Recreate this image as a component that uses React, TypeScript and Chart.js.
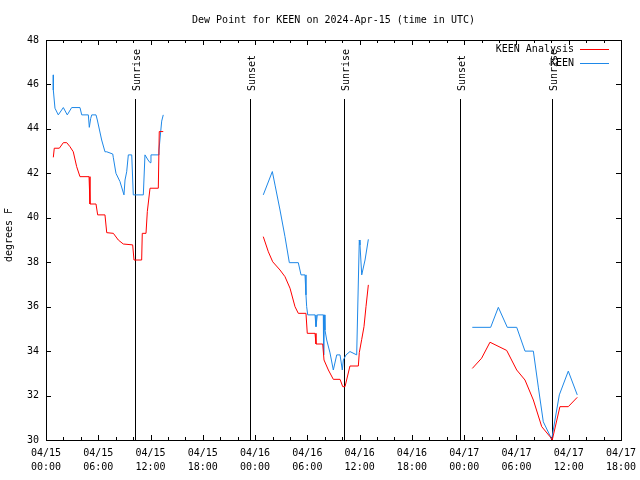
import React, { useEffect, useRef } from "react";
import { Chart, registerables } from "chart.js";

Chart.register(...registerables);

const TITLE = "Dew Point for KEEN on 2024-Apr-15 (time in UTC)";
const Y_TITLE = "degrees F";
const SERIES_NAMES = ["KEEN Analysis", "KEEN"];
const X_TICK_LABELS = [
  ["04/15", "00:00"], ["04/15", "06:00"], ["04/15", "12:00"], ["04/15", "18:00"],
  ["04/16", "00:00"], ["04/16", "06:00"], ["04/16", "12:00"], ["04/16", "18:00"],
  ["04/17", "00:00"], ["04/17", "06:00"], ["04/17", "12:00"], ["04/17", "18:00"],
];

// hours since 04/15 00:00 UTC (null value = gap in data)
const keenHours = [
  0.84, 0.84, 1.03, 1.41, 1.99, 2.44, 2.95, 3.9, 4.1, 4.86, 4.97, 5.13, 5.25, 5.74, 5.89, 6.39, 6.77, 6.97,
  7.66, 7.73, 8.03, 8.49, 8.95, 9.07, 9.26, 9.45, 9.84, 10.02, 11.17, 11.36, 11.71, 11.94, 12.05, 12.89,
  12.97, 13.17, 13.28, 13.46,
  19,
  24.94, 25.98, 26.29, 26.86, 27.43, 27.93, 28.96, 29.27, 29.73, 29.84, 29.92, 30.04, 30.88, 30.99, 31.14,
  31.83, 31.87, 31.95, 32.02, 32.22, 32.6, 32.98, 33.37, 33.75, 34.01, 34.13, 34.44, 34.89, 35.66, 35.96,
  36.04, 36.24, 36.62, 37.0,
  42,
  48.93, 51.04, 51.92, 52.95, 54.03, 54.98, 55.94, 56.51, 57.08, 58.05, 58.42, 58.92, 59.95, 60.98,
];
const keenValues = [
  46.43, 45.75, 44.93, 44.63, 44.96, 44.63, 44.96, 44.96, 44.63, 44.63, 44.07, 44.47, 44.63, 44.63, 44.4, 43.5,
  42.97, 42.97, 42.87, 42.7, 42.0, 41.63, 41.03, 41.7, 42.07, 42.83, 42.83, 41.03, 41.03, 42.83, 42.6, 42.48,
  42.83, 42.83, 43.05, 43.9, 44.35, 44.63,
  null,
  41.03, 42.08, 41.47, 40.35, 39.15, 37.98, 37.98, 37.43, 37.43, 36.53, 36.0, 35.63, 35.63, 35.1, 35.63,
  35.63, 33.83, 35.63, 34.95, 34.5, 33.92, 33.15, 33.83, 33.83, 33.15, 33.6, 33.83, 33.98, 33.83, 39.0,
  38.78, 37.43, 38.1, 39.03,
  null,
  35.07, 35.07, 35.97, 35.07, 35.07, 34.0, 34.0, 32.38, 30.82, 30.03, 30.9, 32.03, 33.1, 32.03,
];

const analysisHours = [
  0.84, 0.95, 1.53, 1.99, 2.38, 2.75, 3.13, 3.52, 3.9, 4.94, 5.05, 5.74, 5.93, 6.77, 6.97, 7.73, 8.3, 8.87,
  9.95, 10.1, 10.98, 11.05, 11.48, 11.63, 11.94, 12.89, 13.0, 13.46,
  19,
  24.94, 25.52, 26.02, 26.86, 27.43, 28.01, 28.58, 28.96, 29.84, 29.99, 30.88, 30.99, 31.76, 31.91, 32.41,
  32.98, 33.75, 34.06, 34.32, 34.89, 35.85, 35.96, 36.24, 36.5, 36.73, 37.0,
  42,
  48.93, 50.0, 50.96, 52.88, 54.03, 54.98, 55.94, 56.9, 57.85, 58.11, 58.99, 59.95, 60.98,
];
const analysisValues = [
  42.72, 43.13, 43.13, 43.38, 43.38, 43.2, 42.97, 42.3, 41.85, 41.85, 40.62, 40.62, 40.13, 40.13, 39.33, 39.3,
  39.0, 38.82, 38.78, 38.1, 38.1, 39.3, 39.3, 40.28, 41.33, 41.33, 43.88, 43.88,
  null,
  39.15, 38.47, 38.02, 37.65, 37.35, 36.83, 36.0, 35.7, 35.7, 34.8, 34.8, 34.32, 34.32, 33.6, 33.15,
  32.73, 32.73, 32.4, 32.4, 33.33, 33.33, 33.93, 34.53, 35.1, 36.0, 36.98,
  null,
  33.22, 33.68, 34.4, 34.03, 33.15, 32.7, 31.8, 30.6, 30.15, 30.0, 31.5, 31.5, 31.92,
];

const sunHours = [10.2, 23.4, 34.2, 47.5, 58.1];
const sunLabels = ["Sunrise", "Sunset", "Sunrise", "Sunset", "Sunrise"];

const X_MIN = 0;
const X_MAX = 66;
const Y_MIN = 30;
const Y_MAX = 48;

const FONT = "DejaVu Sans Mono";
const RED = "#ff0000";
const BLUE = "#1e88e8";

const gnuplotPlugin = {
  id: "gnuplotDecor",
  beforeDraw(chart: any) {
    const { ctx, width, height } = chart;
    ctx.save();
    ctx.fillStyle = "#ffffff";
    ctx.fillRect(0, 0, width, height);
    ctx.restore();
  },
  beforeDatasetsDraw(chart: any) {
    const { ctx, chartArea, scales } = chart;
    const { left, right, top, bottom } = chartArea;
    const x = scales.x;
    const y = scales.y;
    ctx.save();
    ctx.strokeStyle = "#000000";
    ctx.lineWidth = 1;
    ctx.strokeRect(left + 0.5, top + 0.5, right - left, bottom - top);
    ctx.beginPath();
    for (let h = X_MIN; h <= X_MAX; h += 2) {
      const px = Math.round(x.getPixelForValue(h)) + 0.5;
      const len = h % 6 === 0 ? 5 : 3;
      ctx.moveTo(px, bottom);
      ctx.lineTo(px, bottom - len);
      ctx.moveTo(px, top);
      ctx.lineTo(px, top + len);
    }
    for (let v = Y_MIN; v <= Y_MAX; v += 2) {
      const py = Math.round(y.getPixelForValue(v)) + 0.5;
      ctx.moveTo(left, py);
      ctx.lineTo(left + 5, py);
      ctx.moveTo(right, py);
      ctx.lineTo(right - 5, py);
    }
    ctx.stroke();

    // sunrise / sunset markers
    ctx.beginPath();
    sunHours.forEach((h) => {
      const px = Math.round(x.getPixelForValue(h)) + 0.5;
      ctx.moveTo(px, top + 59);
      ctx.lineTo(px, bottom);
    });
    ctx.stroke();
    ctx.fillStyle = "#000000";
    ctx.font = `10px "${FONT}"`;
    ctx.textAlign = "left";
    ctx.textBaseline = "middle";
    sunHours.forEach((h, i) => {
      const px = Math.round(x.getPixelForValue(h)) + 2;
      ctx.save();
      ctx.translate(px, top + 51);
      ctx.rotate(-Math.PI / 2);
      ctx.fillText(sunLabels[i], 0, 0);
      ctx.restore();
    });
    ctx.restore();
  },
  afterDraw(chart: any) {
    const { ctx, chartArea } = chart;
    const { left, right, top, bottom } = chartArea;
    ctx.save();
    ctx.fillStyle = "#000000";
    ctx.font = `10px "${FONT}"`;
    ctx.textBaseline = "middle";
    ctx.textAlign = "center";
    ctx.fillText(TITLE, (left + right) / 2, 20);

    ctx.save();
    ctx.translate(9, (top + bottom) / 2 - 5);
    ctx.rotate(-Math.PI / 2);
    ctx.fillText(Y_TITLE, 0, 0);
    ctx.restore();

    // legend
    const colors = [RED, BLUE];
    SERIES_NAMES.forEach((name, i) => {
      const yy = top + 9 + i * 14;
      ctx.textAlign = "right";
      ctx.fillStyle = "#000000";
      ctx.fillText(name, right - 47, yy);
      ctx.strokeStyle = colors[i];
      ctx.lineWidth = 1;
      ctx.beginPath();
      ctx.moveTo(right - 41, Math.round(yy) + 0.5);
      ctx.lineTo(right - 12, Math.round(yy) + 0.5);
      ctx.stroke();
    });
    ctx.restore();
  },
};

export default function App() {
  const canvasRef = useRef<HTMLCanvasElement | null>(null);

  useEffect(() => {
    if (!canvasRef.current) return;
    const chart = new Chart(canvasRef.current, {
      type: "line",
      data: {
        datasets: [
          {
            label: SERIES_NAMES[0],
            data: analysisHours.map((h, i) => ({ x: h, y: analysisValues[i] })),
            borderColor: RED,
            backgroundColor: RED,
            borderWidth: 1,
            pointRadius: 0,
            tension: 0,
            spanGaps: false,
          },
          {
            label: SERIES_NAMES[1],
            data: keenHours.map((h, i) => ({ x: h, y: keenValues[i] })),
            borderColor: BLUE,
            backgroundColor: BLUE,
            borderWidth: 1,
            pointRadius: 0,
            tension: 0,
            spanGaps: false,
          },
        ],
      },
      options: {
        animation: false,
        responsive: false,
        maintainAspectRatio: false,
        layout: { padding: { left: 0, right: 19, top: 40, bottom: 0 } },
        plugins: {
          legend: { display: false },
          title: { display: false },
          tooltip: { enabled: false },
        },
        scales: {
          x: {
            type: "linear",
            min: X_MIN,
            max: X_MAX,
            grid: { display: false, drawTicks: false },
            border: { display: false },
            ticks: {
              stepSize: 6,
              autoSkip: false,
              maxRotation: 0,
              minRotation: 0,
              padding: 6,
              color: "#000000",
              font: { family: FONT, size: 10, lineHeight: 1.4 },
              callback: (value: any) => X_TICK_LABELS[Math.round(Number(value) / 6)] as any,
            },
            afterFit: (s: any) => {
              s.height = 40;
              s.paddingLeft = 0;
              s.paddingRight = 0;
            },
          },
          y: {
            type: "linear",
            min: Y_MIN,
            max: Y_MAX,
            grid: { display: false, drawTicks: false },
            border: { display: false },
            ticks: {
              stepSize: 2,
              padding: 7,
              color: "#000000",
              font: { family: FONT, size: 10 },
            },
            afterFit: (s: any) => {
              s.width = 46;
              s.paddingTop = 0;
              s.paddingBottom = 0;
            },
          },
        },
      },
      plugins: [gnuplotPlugin],
    });
    return () => chart.destroy();
  }, []);

  return (
    <div style={{ position: "absolute", left: 0, top: 0, width: 640, height: 480, background: "#fff" }}>
      <canvas ref={canvasRef} width={640} height={480} style={{ display: "block" }} />
    </div>
  );
}
